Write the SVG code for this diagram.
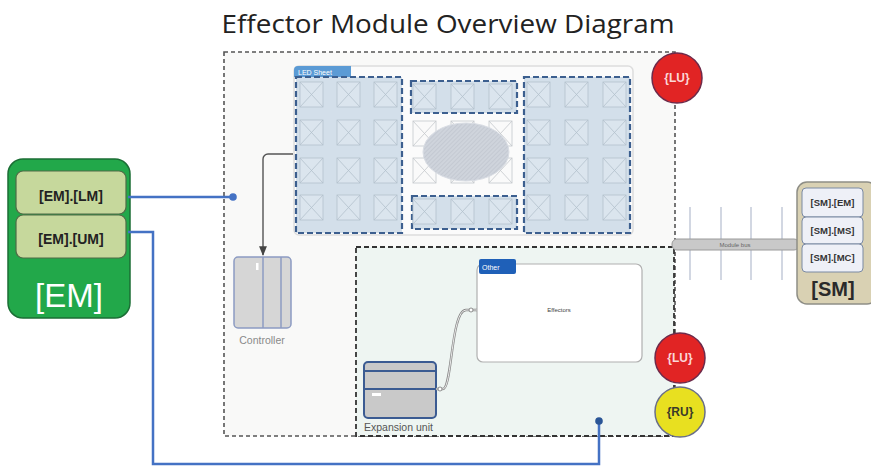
<svg xmlns="http://www.w3.org/2000/svg" width="871" height="469" viewBox="0 0 871 469">
<style>
.title{font-family:"Open Sans","Liberation Sans",sans-serif;font-size:25px;fill:#222}
.emsub{font-family:"Liberation Sans",sans-serif;font-size:14px;font-weight:bold;fill:#222;text-anchor:middle}
.smsub{font-family:"Liberation Sans",sans-serif;font-size:9.5px;font-weight:bold;fill:#333;text-anchor:middle}
.circ{font-family:"Liberation Sans",sans-serif;font-size:12px;font-weight:bold;text-anchor:middle}
.lbl{font-family:"Liberation Sans",sans-serif;font-size:10.5px;fill:#8a8a8a}
.tab{font-family:"Liberation Sans",sans-serif;font-size:7px;fill:#fff}
.grp{fill:#d3dfea;stroke:#3c5f8f;stroke-width:2.2;stroke-dasharray:6 3}
.cell{fill:#dbe5ee;stroke:#b3c0cc;stroke-width:0.8}
.cellw{fill:#fafafa;stroke:#c4c8cc;stroke-width:0.8}
.blue{fill:none;stroke:#4472c4;stroke-width:2.5}
</style>
<defs>
<g id="cx"><rect class="cell" x="0" y="0" width="23" height="25"/><path d="M0 0L23 25M23 0L0 25" stroke="#b3c0cc" stroke-width="0.8"/></g>
<g id="cw"><rect class="cellw" x="0" y="0" width="23" height="25"/><path d="M0 0L23 25M23 0L0 25" stroke="#c4c8cc" stroke-width="0.8"/></g>
<pattern id="hatch" width="3" height="3" patternUnits="userSpaceOnUse" patternTransform="rotate(45)"><rect width="3" height="3" fill="#cfd4dc"/><line x1="0" y1="0" x2="0" y2="3" stroke="#b9bfc9" stroke-width="1"/></pattern>
<marker id="arr" viewBox="0 0 10 10" refX="9" refY="5" markerWidth="7" markerHeight="7" orient="auto"><path d="M0 1L10 5L0 9z" fill="#444"/></marker>
</defs>
<rect width="871" height="469" fill="#ffffff"/>
<text class="title" x="448" y="33" text-anchor="middle" textLength="453" lengthAdjust="spacingAndGlyphs">Effector Module Overview Diagram</text>

<g id="effector-module">
<rect x="224" y="52" width="451" height="384" fill="#f9f9f8" stroke="#555" stroke-width="1.6" stroke-dasharray="4 3"/>
</g>

<g id="expansion-area">
<rect x="356" y="247" width="318" height="189" fill="#eef5f2" stroke="#333" stroke-width="1.8" stroke-dasharray="5 3"/>
</g>

<g id="led-sheet">
<rect x="294" y="66" width="339" height="169" rx="5" fill="#fbfbfb" stroke="#dddddd" stroke-width="1.5"/>
<path d="M294 77V70a4 4 0 0 1 4-4h53v11z" fill="#5b9bd5"/>
<text class="tab" x="298" y="74.5">LED Sheet</text>
<rect class="grp" x="296" y="77" width="106" height="156"/>
<rect class="grp" x="411" y="81" width="106" height="32"/>
<rect class="grp" x="412" y="196" width="105" height="33"/>
<rect class="grp" x="524" y="77" width="106" height="156"/>
<use href="#cx" x="300" y="82"/><use href="#cx" x="337" y="82"/><use href="#cx" x="374" y="82"/>
<use href="#cx" x="300" y="120"/><use href="#cx" x="337" y="120"/><use href="#cx" x="374" y="120"/>
<use href="#cx" x="300" y="158"/><use href="#cx" x="337" y="158"/><use href="#cx" x="374" y="158"/>
<use href="#cx" x="300" y="195"/><use href="#cx" x="337" y="195"/><use href="#cx" x="374" y="195"/>
<use href="#cx" x="413" y="84"/><use href="#cx" x="451" y="84"/><use href="#cx" x="489" y="84"/>
<use href="#cw" x="413" y="121"/><use href="#cw" x="451" y="121"/><use href="#cw" x="489" y="121"/>
<use href="#cw" x="413" y="158"/><use href="#cw" x="451" y="158"/><use href="#cw" x="489" y="158"/>
<use href="#cx" x="413" y="199"/><use href="#cx" x="451" y="199"/><use href="#cx" x="489" y="199"/>
<use href="#cx" x="527" y="82"/><use href="#cx" x="565" y="82"/><use href="#cx" x="603" y="82"/>
<use href="#cx" x="527" y="120"/><use href="#cx" x="565" y="120"/><use href="#cx" x="603" y="120"/>
<use href="#cx" x="527" y="158"/><use href="#cx" x="565" y="158"/><use href="#cx" x="603" y="158"/>
<use href="#cx" x="527" y="195"/><use href="#cx" x="565" y="195"/><use href="#cx" x="603" y="195"/>
<ellipse cx="466" cy="152" rx="43" ry="29" fill="url(#hatch)" stroke="#d9dde4" stroke-width="1"/>
</g>

<g id="controller">
<rect x="234" y="257" width="57" height="71" rx="4" fill="#d6d6d6" stroke="#8c9bc2" stroke-width="1.5"/>
<line x1="263" y1="257" x2="263" y2="328" stroke="#8c9bc2" stroke-width="1.5"/>
<line x1="281" y1="257" x2="281" y2="328" stroke="#8c9bc2" stroke-width="1.5"/>
<rect x="256" y="263" width="2.5" height="7" fill="#fff"/>
<text class="lbl" x="262" y="344" text-anchor="middle">Controller</text>
</g>

<g id="other-effectors">
<rect x="477" y="264" width="165" height="98" rx="6" fill="#ffffff" stroke="#b0b0b0" stroke-width="1.2"/>
<rect x="479" y="259" width="37" height="15" rx="2" fill="#1f60b8"/>
<text class="tab" x="482" y="269.5">Other</text>
<text x="559" y="312" font-family="Liberation Sans,sans-serif" font-size="6" fill="#444" text-anchor="middle">Effectors</text>
</g>

<g id="expansion-unit">
<rect x="364" y="362" width="72" height="56" rx="4" fill="#c9c9c9" stroke="#3b5b92" stroke-width="2"/>
<line x1="364" y1="371" x2="436" y2="371" stroke="#3b5b92" stroke-width="1.8"/>
<line x1="364" y1="389" x2="436" y2="389" stroke="#3b5b92" stroke-width="1.8"/>
<rect x="372" y="393" width="9" height="3" fill="#fff"/>
<text class="lbl" x="364" y="431" fill="#555" style="fill:#555">Expansion unit</text>
</g>

<g id="lu-top">
<circle cx="677" cy="78" r="25" fill="#e12424" stroke="#6e2a4a" stroke-width="1.5"/>
<text class="circ" x="677" y="82" fill="#fbd7d7">{LU}</text>
</g>
<g id="lu-bottom">
<circle cx="680" cy="358" r="25" fill="#e12424" stroke="#6e2a4a" stroke-width="1.5"/>
<text class="circ" x="680" y="362" fill="#fbd7d7">{LU}</text>
</g>
<g id="ru">
<circle cx="680" cy="412" r="25" fill="#e8e020" stroke="#6a6f88" stroke-width="1.5"/>
<text class="circ" x="680" y="416" fill="#3a3a2a">{RU}</text>
</g>

<g id="module-bus">
<line x1="690" y1="207" x2="690" y2="280" stroke="#b4bccf" stroke-width="1.2"/>
<line x1="721" y1="207" x2="721" y2="280" stroke="#b4bccf" stroke-width="1.2"/>
<line x1="751" y1="207" x2="751" y2="280" stroke="#b4bccf" stroke-width="1.2"/>
<line x1="782" y1="207" x2="782" y2="280" stroke="#b4bccf" stroke-width="1.2"/>
<rect x="672" y="239" width="127" height="11" rx="5" fill="#c9c9c9" stroke="#9a9a9a" stroke-width="1"/>
<text x="735" y="246.5" font-family="Liberation Sans,sans-serif" font-size="6" fill="#666" text-anchor="middle">Module bus</text>
</g>

<g id="sm">
<rect x="797" y="182" width="80" height="122" rx="10" fill="#d9d1b3" stroke="#8e8e86" stroke-width="1.5"/>
<rect x="802" y="188" width="61" height="29" rx="4" fill="#eef0f7" stroke="#7b8aa3" stroke-width="1"/>
<rect x="802" y="217" width="61" height="27" rx="4" fill="#eef0f7" stroke="#7b8aa3" stroke-width="1"/>
<rect x="802" y="244" width="61" height="28" rx="4" fill="#eef0f7" stroke="#7b8aa3" stroke-width="1"/>
<text class="smsub" x="832.5" y="206">[SM].[EM]</text>
<text class="smsub" x="832.5" y="234">[SM].[MS]</text>
<text class="smsub" x="832.5" y="261">[SM].[MC]</text>
<text x="833" y="296" font-family="Liberation Sans,sans-serif" font-size="20" font-weight="bold" fill="#2a2a2a" text-anchor="middle">[SM]</text>
</g>

<g id="em">
<rect x="8" y="159" width="122" height="159" rx="15" fill="#22a84a" stroke="#1b6e35" stroke-width="1.5"/>
<rect x="16" y="171" width="110" height="43" rx="7" fill="#c6d89c" stroke="#4e6b46" stroke-width="1.2"/>
<rect x="16" y="215" width="110" height="43" rx="7" fill="#c6d89c" stroke="#4e6b46" stroke-width="1.2"/>
<text class="emsub" x="71" y="201">[EM].[LM]</text>
<text class="emsub" x="71" y="244">[EM].[UM]</text>
<text x="69" y="307" font-family="Liberation Sans,sans-serif" font-size="33" fill="#ffffff" text-anchor="middle">[EM]</text>
</g>

<g id="connectors">
<path class="blue" d="M128 197H233"/>
<circle cx="233" cy="197" r="3.8" fill="#4472c4"/>
<path class="blue" d="M128 232H153V464H599V421"/>
<circle cx="599" cy="421" r="3.8" fill="#2a5596"/>
<path d="M293 154H268a5 5 0 0 0-5 5V255" fill="none" stroke="#555" stroke-width="1.4" marker-end="url(#arr)"/>
<path d="M436 389H443C452 389 451 310 466 310H477" fill="none" stroke="#888" stroke-width="2.4"/>
<path d="M436 389H443C452 389 451 310 466 310H477" fill="none" stroke="#f4f4f4" stroke-width="0.9"/>
<circle cx="440" cy="389" r="2" fill="#fff" stroke="#777" stroke-width="0.8"/>
<circle cx="471" cy="310" r="2" fill="#fff" stroke="#777" stroke-width="0.8"/>
</g>
</svg>
